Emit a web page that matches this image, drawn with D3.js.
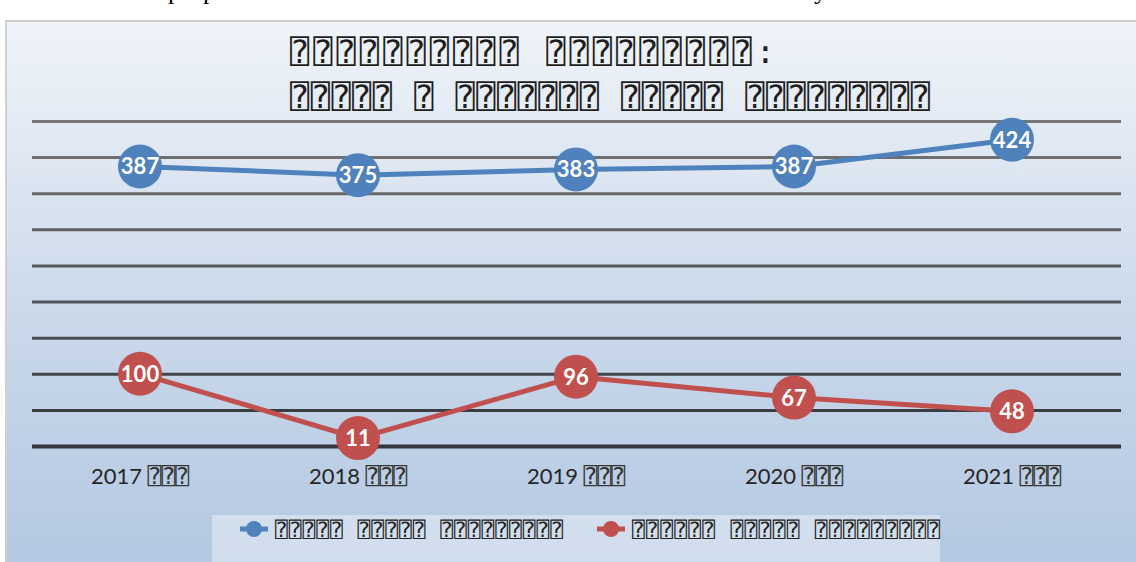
<!DOCTYPE html>
<html lang="en">
<head>
    <meta charset="UTF-8">
    <title>Line chart</title>
    <script src="https://d3js.org/d3.v7.min.js"></script>
    <style>
        body {
            margin: 0;
            background: #fff;
        }
        .box-text {
            font-family: 'DejaVu Sans Mono', monospace;
        }
        .year-text {
            font-family: 'Lato', 'Open Sans', sans-serif;
            font-size: 22px;
            fill: #262626;
        }
        .value-label {
            font-family: 'Lato', 'Open Sans', sans-serif;
            font-size: 22px;
            font-weight: bold;
            fill: #fff;
        }
    </style>
</head>
<body>
    <svg id="chart" width="1136" height="562"></svg>

    <script>
        // the text in the picture is only visible as missing-glyph boxes
        const titleLines = [
            "⍰⍰⍰⍰⍰⍰⍰⍰⍰⍰ ⍰⍰⍰⍰⍰⍰⍰⍰⍰:",
            "⍰⍰⍰⍰⍰ ⍰ ⍰⍰⍰⍰⍰⍰⍰ ⍰⍰⍰⍰⍰ ⍰⍰⍰⍰⍰⍰⍰⍰⍰"
        ];
        const years = ["2017", "2018", "2019", "2020", "2021"];
        const yearSuffix = "⍰⍰⍰";
        const seriesNames = ["⍰⍰⍰⍰⍰ ⍰⍰⍰⍰⍰ ⍰⍰⍰⍰⍰⍰⍰⍰⍰", "⍰⍰⍰⍰⍰⍰ ⍰⍰⍰⍰⍰ ⍰⍰⍰⍰⍰⍰⍰⍰⍰"];
        const blueValues = [387, 375, 383, 387, 424];
        const redValues = [100, 11, 96, 67, 48];
        const gridValues = [0, 50, 100, 150, 200, 250, 300, 350, 400, 450];
        const colors = ["#4f81bd", "#c0504d"];

        const W = 1136, H = 562;
        const svg = d3.select("#chart");
        const defs = svg.append("defs");

        const bg = defs.append("linearGradient")
            .attr("id", "bg").attr("x1", 0).attr("y1", 0).attr("x2", 0).attr("y2", 1);
        bg.append("stop").attr("offset", "0%").attr("stop-color", "#f0f4f9");
        bg.append("stop").attr("offset", "55%").attr("stop-color", "#c9d8ea");
        bg.append("stop").attr("offset", "100%").attr("stop-color", "#b2c7e1");

        // bits of the page text above the chart
        svg.append("g").selectAll("text")
            .data([["p", 168], ["p", 203], ["y", 814]])
            .join("text")
            .attr("x", d => d[1]).attr("y", -1)
            .style("font-family", "'Liberation Serif', serif")
            .style("font-size", "26px")
            .text(d => d[0]);

        // chart area
        svg.append("rect")
            .attr("x", 6).attr("y", 21)
            .attr("width", W + 10).attr("height", H)
            .attr("fill", "url(#bg)")
            .attr("stroke", "#d0d0d0")
            .attr("stroke-width", 2);

        const x = d3.scalePoint().domain(years).range([31, 1121]).padding(0.5);
        const y = d3.scaleLinear().domain([0, 450]).range([446, 121]);
        const gridShade = d3.scaleLinear().domain([450, 0]).range(["#767676", "#33373d"]);

        // title
        const titleWidths = [485, 640];
        svg.append("g").selectAll("text")
            .data(titleLines)
            .join("text")
            .attr("class", "box-text")
            .attr("x", 290)
            .attr("y", (d, i) => 63 + i * 45)
            .attr("textLength", (d, i) => titleWidths[i])
            .attr("lengthAdjust", "spacing")
            .style("font-size", "32px")
            .attr("fill", "#1e1e1e")
            .text(d => d);

        // gridlines
        const grid = svg.append("g")
            .attr("transform", "translate(32,0)")
            .call(d3.axisLeft(y).tickValues(gridValues).tickSize(-(1121 - 32)).tickFormat(""));
        grid.select(".domain").remove();
        grid.selectAll(".tick line")
            .attr("stroke", d => gridShade(d))
            .attr("stroke-width", d => d === 0 ? 4 : 3);

        // x labels
        const xl = svg.append("g").selectAll("text")
            .data(years)
            .join("text")
            .attr("class", "year-text")
            .attr("x", d => x(d))
            .attr("y", 484)
            .attr("text-anchor", "middle");
        xl.append("tspan").text(d => d + " ");
        xl.append("tspan")
            .attr("class", "box-text")
            .style("font-size", "23px")
            .attr("fill", "#333")
            .text(yearSuffix);

        // series
        const series = [blueValues, redValues];
        const line = d3.line().x((d, i) => x(years[i])).y(d => y(d));

        series.forEach((vals, s) => {
            const g = svg.append("g");
            g.append("path")
                .datum(vals)
                .attr("d", line)
                .attr("fill", "none")
                .attr("stroke", colors[s])
                .attr("stroke-width", 5);
            g.selectAll("circle")
                .data(vals)
                .join("circle")
                .attr("cx", (d, i) => x(years[i]))
                .attr("cy", d => y(d))
                .attr("r", 22)
                .attr("fill", colors[s]);
            g.selectAll("text")
                .data(vals)
                .join("text")
                .attr("class", "value-label")
                .attr("x", (d, i) => x(years[i]))
                .attr("y", d => y(d))
                .attr("dy", "0.36em")
                .attr("text-anchor", "middle")
                .text(d => d);
        });

        // legend
        svg.append("rect")
            .attr("x", 212).attr("y", 515)
            .attr("width", 728).attr("height", 60)
            .attr("fill", "#fff")
            .attr("fill-opacity", 0.38);

        const legendX = [240, 597];
        const legendWidths = [288, 308];
        const leg = svg.append("g").selectAll("g")
            .data(seriesNames)
            .join("g")
            .attr("transform", (d, i) => `translate(${legendX[i]},529)`);
        leg.append("line")
            .attr("x1", 0).attr("x2", 28)
            .attr("stroke", (d, i) => colors[i])
            .attr("stroke-width", 5);
        leg.append("circle")
            .attr("cx", 14).attr("r", 8)
            .attr("fill", (d, i) => colors[i]);
        leg.append("text")
            .attr("class", "box-text")
            .attr("x", 35)
            .attr("y", 8)
            .attr("textLength", (d, i) => legendWidths[i])
            .attr("lengthAdjust", "spacing")
            .style("font-size", "21px")
            .attr("fill", "#222")
            .text(d => d);
    </script>
</body>
</html>
